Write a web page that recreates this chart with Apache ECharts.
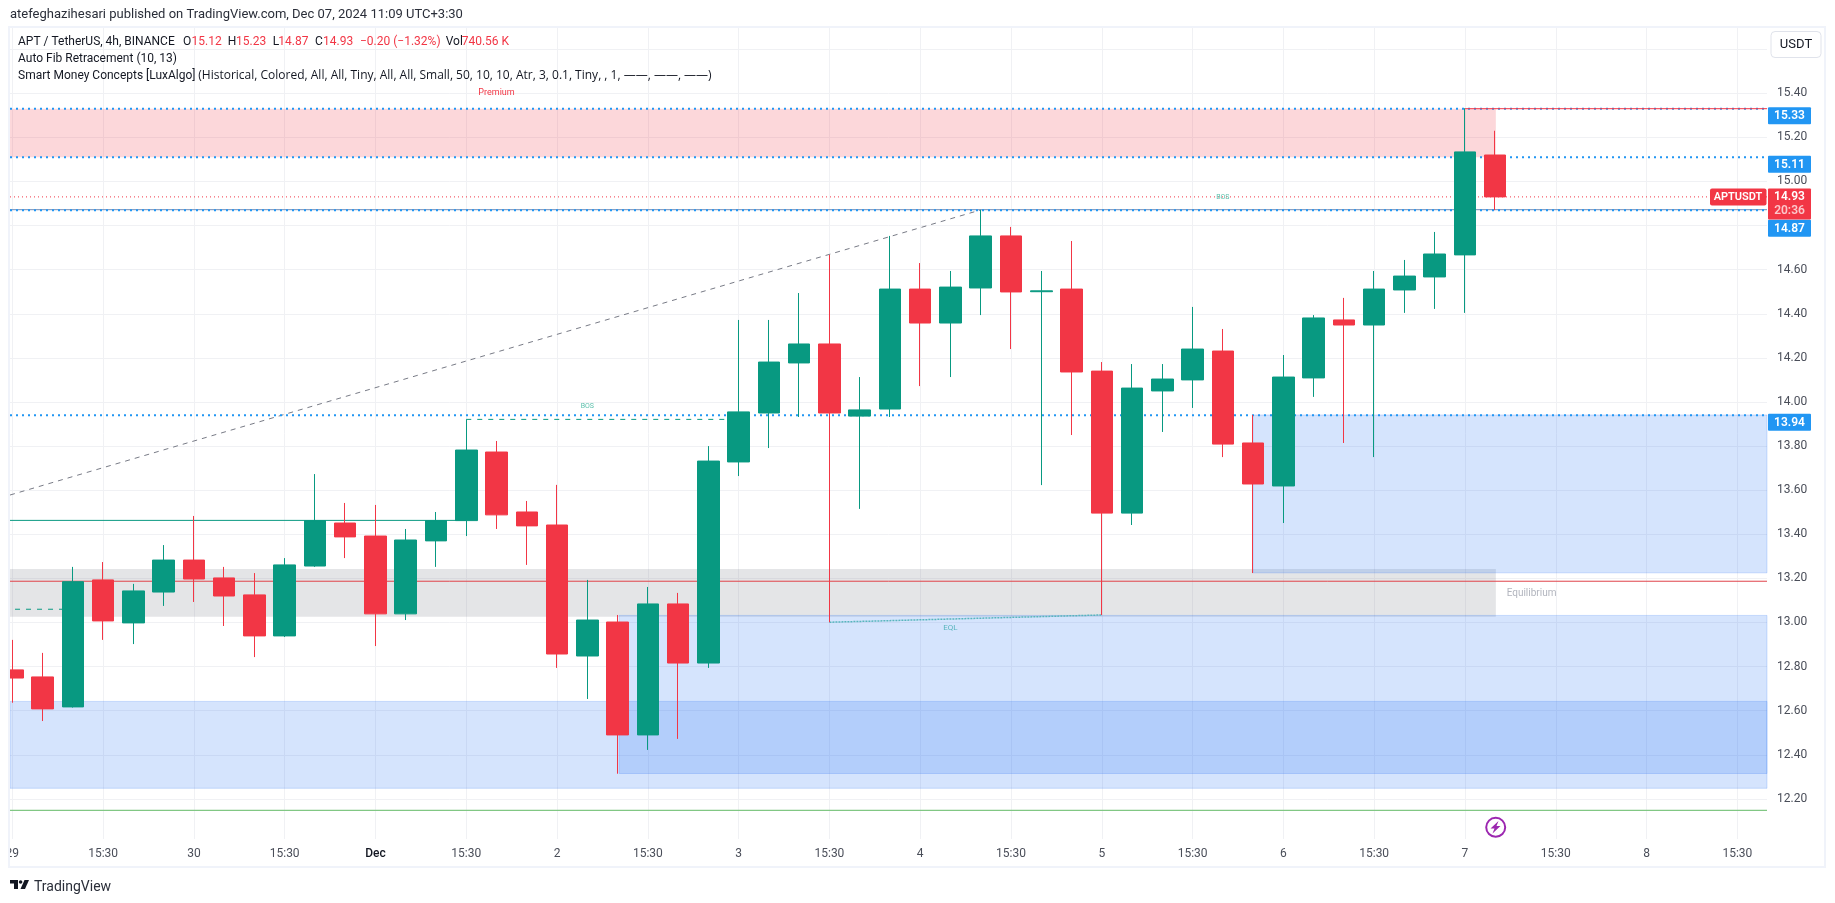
<!DOCTYPE html>
<html><head><meta charset="utf-8">
<style>html,body{margin:0;padding:0;background:#fff}#c{width:1835px;height:903px}</style>
<script src="https://cdn.jsdelivr.net/npm/echarts@6/dist/echarts.min.js"></script>
</head><body><div id="c"></div>
<script>
// ---- data ----
const candleOpen  = [12.785,12.753,12.617,13.193,12.998,13.138,13.283,13.202,13.125,12.939,13.256,13.451,13.392,13.039,13.370,13.462,13.773,13.501,13.442,12.848,13.002,12.490,13.084,12.816,13.728,13.950,14.177,14.263,13.936,13.968,14.512,14.358,14.517,14.753,14.500,14.512,14.140,13.496,14.050,14.100,14.231,13.814,13.619,14.109,14.372,14.349,14.508,14.567,14.667,15.12];
const candleClose = [12.748,12.608,13.185,13.007,13.143,13.283,13.197,13.120,12.939,13.261,13.462,13.388,13.039,13.374,13.462,13.782,13.488,13.438,12.857,13.011,12.490,13.084,12.816,13.732,13.955,14.181,14.263,13.950,13.964,14.512,14.358,14.521,14.753,14.499,14.504,14.136,13.496,14.063,14.104,14.240,13.809,13.628,14.113,14.381,14.349,14.512,14.571,14.671,15.134,14.93];
const candleLow   = [12.636,12.553,12.614,12.921,12.902,13.075,13.093,12.984,12.843,12.934,13.252,13.292,12.893,13.011,13.252,13.392,13.424,13.261,12.794,12.653,12.314,12.422,12.472,12.794,13.664,13.791,13.932,13.001,13.515,13.932,14.072,14.113,14.394,14.240,13.623,13.850,13.034,13.442,13.864,13.973,13.750,13.224,13.451,14.023,13.814,13.750,14.404,14.422,14.404,14.87];
const candleHigh  = [12.921,12.862,13.252,13.274,13.175,13.351,13.483,13.252,13.224,13.292,13.673,13.542,13.533,13.424,13.501,13.921,13.823,13.551,13.624,13.193,13.034,13.161,13.134,13.800,14.372,14.372,14.494,14.667,14.113,14.753,14.630,14.594,14.871,14.794,14.594,14.730,14.181,14.172,14.172,14.431,14.331,13.941,14.213,14.394,14.472,14.594,14.644,14.771,15.332,15.23];
const xTickBars   = [0,3,6,9,12,15,18,21,24,27,30,33,36,39,42,45,48,51,54,57];
const xTickLabels = ["29","15:30","30","15:30","Dec","15:30","2","15:30","3","15:30","4","15:30","5","15:30","6","15:30","7","15:30","8","15:30"];
const yTicks = [12.2,12.4,12.6,12.8,13.0,13.2,13.4,13.6,13.8,14.0,14.2,14.4,14.6,14.8,15.0,15.2,15.4,15.6];
const barFirstVisible = -0.076, barLastVisible = 57.98;
// zones: start bar, end bar, upper price, lower price
const blueZoneStart = [barFirstVisible, 20.05, 41.0];
const blueZoneTop   = [12.642, 13.032, 13.941];
const blueZoneBot   = [12.248, 12.315, 13.225];
const pinkZone = [barFirstVisible, 49.02, 15.33, 15.11];
const greyZone = [barFirstVisible, 49.02, 13.243, 13.026];
// horizontal levels
const dottedLevels = [15.33, 15.11, 14.87, 13.94];
const lastPrice = 14.93;
const levelSolid14 = 14.872;
const redMid = 13.187;
const greenLow = 12.148;
const greenHold = [barFirstVisible, 15, 13.463];
const redTop = [48, 15.33];
const bos1 = [15, 24, 13.921];
const eqHold = [0.09, 2, 13.060];
const trend = [[barFirstVisible,13.578],[32,14.871]];
const eql = [[27,13.001],[36,13.034]];
const noteTexts  = ["Premium","BOS","BOS","EQL","Equilibrium"];
const noteBars   = [16,19,40,31,50.2];
const notePrices = [15.403,13.979,14.927,12.977,13.13];
const tagValues  = ["15.33","15.11","14.87","13.94"];
const legendLine1 = ["APT / TetherUS, 4h, BINANCE","O","15.12","H","15.23","L","14.87","C","14.93","\u22120.20 (\u22121.32%)","Vol","740.56 K"];
const legendLine2 = "Auto Fib Retracement (10, 13)";
const legendLine3a = "Smart Money Concepts [LuxAlgo]";
const legendLine3b = "(Historical, Colored, All, All, Tiny, All, All, Small, 50, 10, 10, Atr, 3, 0.1, Tiny, , 1, \u2014\u2014, \u2014\u2014, \u2014\u2014)";
const titleText = "atefeghazihesari published on TradingView.com, Dec 07, 2024 11:09 UTC+3:30";

// ---- chart ----
const UP='#089981', DN='#f23645', BLUE='#2196f3', FONT='Roboto, sans-serif', INK='#131722', GRID='#f0f1f4';
const chart = echarts.init(document.getElementById('c'), null, {renderer:'canvas', width:1835, height:903});
const candleData = candleOpen.map((o,i)=>[i,o,candleClose[i],candleLow[i],candleHigh[i]]);

function seg(name, pts, color, width, type, z){
  return {type:'line', name, data:pts, symbol:'none', silent:true, animation:false, z:z||2, clip:true,
    lineStyle:{color, width, type:type||'solid'}};
}
const levelSeries = [
  seg('trend', trend, '#787b86', 1, [5,5]),
  seg('green hold', [[greenHold[0],greenHold[2]],[greenHold[1],greenHold[2]]], UP, 1),
  seg('bos', [[bos1[0],bos1[2]],[bos1[1],bos1[2]]], UP, 1, [5,6]),
  seg('eq hold', [[eqHold[0],eqHold[2]],[eqHold[1],eqHold[2]]], UP, 1, [5,6]),
  seg('red mid', [[barFirstVisible,redMid],[barLastVisible,redMid]], '#e0434a', 1),
  seg('green low', [[barFirstVisible,greenLow],[barLastVisible,greenLow]], '#81c784', 1.2),
  seg('solid 14.87', [[barFirstVisible,levelSolid14],[barLastVisible,levelSolid14]], '#6f8ab5', 1),
  seg('last', [[barFirstVisible,lastPrice],[barLastVisible,lastPrice]], DN, 1, [1,3]),
  seg('eql', eql, '#58b5bd', 1.5, [2,1])
].concat(dottedLevels.map(p=>seg('lvl '+p, [[barFirstVisible,p],[barLastVisible,p]], BLUE, 2, [2,4])))
 .concat([seg('red top', [[redTop[0],redTop[1]],[barLastVisible,redTop[1]]], DN, 1)]);

function rectBetween(api, x0, x1, top, bot, style){
  const a = api.coord([x0, top]), b = api.coord([x1, bot]);
  return {type:'rect', shape:{x:a[0], y:a[1], width:b[0]-a[0], height:b[1]-a[1]}, style};
}
const zoneRows = [
  {k:'pink', v:pinkZone},
  {k:'grey', v:greyZone}
].concat(blueZoneStart.map((s,i)=>({k:'blue', v:[s,barLastVisible,blueZoneTop[i],blueZoneBot[i]]})));

const zoneSeries = {
  type:'custom', name:'zones', z:1, silent:true, animation:false,
  data:zoneRows.map((r,i)=>[i]), encode:{x:-1,y:-1},
  renderItem(params, api){
    const r = zoneRows[params.dataIndex], v = r.v;
    const st = r.k==='pink' ? {fill:'rgba(242,54,69,0.2)'}
      : r.k==='grey' ? {fill:'rgba(120,123,134,0.2)'}
      : {fill:'rgba(33,110,243,0.19)', stroke:'rgba(33,110,243,0.2)', lineWidth:1};
    return rectBetween(api, v[0], v[1], v[2], v[3], st);
  }
};
const noteColor = ['#f23645','#5cc0ac','#5cc0ac','#58b5bd','#b2b5be'];
const noteSize = [9,7,7,8,10];
const noteSeries = {
  type:'custom', name:'notes', z:4, silent:true, animation:false,
  data:noteTexts.map((t,i)=>[i]), encode:{x:-1,y:-1},
  renderItem(params, api){
    const i = params.dataIndex, c = api.coord([noteBars[i], notePrices[i]]);
    return {type:'text', x:c[0], y:c[1], style:{text:noteTexts[i], fill:noteColor[i], font:noteSize[i]+'px '+FONT, align:'center', verticalAlign:'middle'}};
  }
};
function tag(c, h, fill, text, yoff){
  const axisX = 1768;
  return {type:'group', children:[
    {type:'rect', shape:{x:axisX, y:c-h/2+(yoff||0), width:43, height:h, r:1}, style:{fill}},
    {type:'text', x:axisX+21.5, y:c+(yoff||0)+0.5, style:{text, fill:'#fff', font:'600 12px '+FONT, align:'center', verticalAlign:'middle'}}
  ]};
}
const tagSeries = {
  type:'custom', name:'price tags', z:6, silent:true, animation:false,
  data:tagValues.map((t,i)=>[i]).concat([[tagValues.length]]), encode:{x:-1,y:-1},
  renderItem(params, api){
    const i = params.dataIndex;
    if(i < tagValues.length){
      const c = api.coord([barLastVisible, dottedLevels[i]]);
      return tag(c[1] + (dottedLevels[i]===14.87 ? 18 : 7), 17, BLUE, tagValues[i]);
    }
    const c = api.coord([barLastVisible, lastPrice]);
    const top = c[1]-8.5;
    return {type:'group', children:[
      {type:'rect', shape:{x:1768, y:top, width:43, height:31, r:1}, style:{fill:DN}},
      {type:'text', x:1789.5, y:top+9, style:{text:lastPrice.toFixed(2), fill:'#fff', font:'600 12px '+FONT, align:'center', verticalAlign:'middle'}},
      {type:'text', x:1789.5, y:top+23, style:{text:'20:36', fill:'rgba(255,255,255,0.72)', font:'600 12px '+FONT, align:'center', verticalAlign:'middle'}},
      {type:'rect', shape:{x:1710, y:top, width:56.5, height:17, r:2}, style:{fill:DN}},
      {type:'text', x:1738, y:top+9, style:{text:'APTUSDT', fill:'#fff', font:'600 11px '+FONT, align:'center', verticalAlign:'middle'}}
    ]};
  }
};

function txt(x,y,text,fill,font,extra){
  return Object.assign({type:'text', x, y, z:50, silent:true, style:{text, fill:fill||INK, font:font||('12px '+FONT), verticalAlign:'middle', align:'left'}}, extra||{});
}
const L = legendLine1;
const legendX = [18,183,191.5,227.7,236,272.7,278.3,315,323,360,445.7,461.7];
const legendFill = [INK,INK,DN,INK,DN,INK,DN,INK,DN,DN,INK,DN];
const graphics = [
  {type:'rect', z:40, silent:true, shape:{x:0,y:28,width:9,height:835}, style:{fill:'#fff'}},
  {type:'rect', z:41, silent:true, shape:{x:9,y:27,width:1816,height:840}, style:{fill:'none', stroke:'#f0f3fa', lineWidth:2}},
  txt(10,15,titleText,'#2a2e39','13px '+FONT),
  txt(18,59,legendLine2,INK),
  txt(18,76,legendLine3a,INK),
  txt(198.3,76,legendLine3b,INK,'12px "Open Sans", sans-serif'),
  {type:'rect', z:45, silent:true, shape:{x:1771,y:31.5,width:50,height:26,r:4}, style:{fill:'#fff', stroke:'#e0e3eb', lineWidth:1}},
  txt(1796,45,'USDT',INK,'13px '+FONT,{style:{text:'USDT',fill:INK,font:'13px '+FONT,align:'center',verticalAlign:'middle'}}),
  // lightning marker
  {type:'circle', z:45, silent:true, shape:{cx:1495.7,cy:827.3,r:9.5}, style:{fill:'#fff', stroke:'#9c27b0', lineWidth:2}},
  {type:'polygon', z:46, silent:true, shape:{points:[[1498.5,821],[1490.5,828.5],[1494.5,828.5],[1492.5,833.5],[1500.5,826],[1496.5,826]]}, style:{fill:'#9c27b0'}},
  // TradingView mark
  {type:'polygon', z:46, silent:true, shape:{points:[[10,880],[18,880],[18,889],[14,889],[14,883.5],[10,883.5]]}, style:{fill:INK}},
  {type:'circle', z:46, silent:true, shape:{cx:20.6,cy:882,r:1.8}, style:{fill:INK}},
  {type:'polygon', z:46, silent:true, shape:{points:[[24.5,880],[29,880],[25,889],[20.5,889]]}, style:{fill:INK}},
  txt(34,887.5,'TradingView','#2a2e39','14px '+FONT)
].concat(L.map((t,i)=>txt(legendX[i],41.5,t,legendFill[i])));

chart.setOption({
  animation:false,
  backgroundColor:'#fff',
  textStyle:{fontFamily:FONT},
  grid:{left:10, top:28, width:1757, height:811, containLabel:false},
  xAxis:{
    type:'value', min:barFirstVisible, max:barLastVisible,
    axisLine:{show:false},
    axisTick:{show:false, customValues:xTickBars},
    splitLine:{show:true, lineStyle:{color:GRID, width:1}},
    axisLabel:{
      customValues:xTickBars, margin:9, color:'#4a4e59', fontSize:12, fontFamily:FONT, hideOverlap:false,
      formatter:(v)=>{const t=xTickLabels[xTickBars.indexOf(Math.round(v))]; return t==='Dec'?'{b|Dec}':t;},
      rich:{b:{color:'#131722', fontSize:12, fontWeight:500, fontFamily:FONT}}
    }
  },
  yAxis:{
    type:'value', position:'right', min:12.018, max:15.696, scale:true,
    axisLine:{show:false},
    axisTick:{show:false, customValues:yTicks},
    splitLine:{show:true, lineStyle:{color:GRID, width:1}},
    axisLabel:{customValues:yTicks.slice(0,-1), margin:10, padding:[2,0,0,0], color:'#4a4e59', fontSize:12, fontFamily:FONT, formatter:v=>Number(v).toFixed(2)}
  },
  graphic:graphics,
  series:[
    zoneSeries,
    ...levelSeries,
    {type:'candlestick', name:'APTUSDT', data:candleData, z:3, silent:true, animation:false, barWidth:22, clip:true,
      encode:{x:0,y:[1,2,3,4]},
      itemStyle:{color:UP, color0:DN, borderColor:UP, borderColor0:DN, borderWidth:1}},
    noteSeries,
    tagSeries
  ]
});
</script></body></html>
